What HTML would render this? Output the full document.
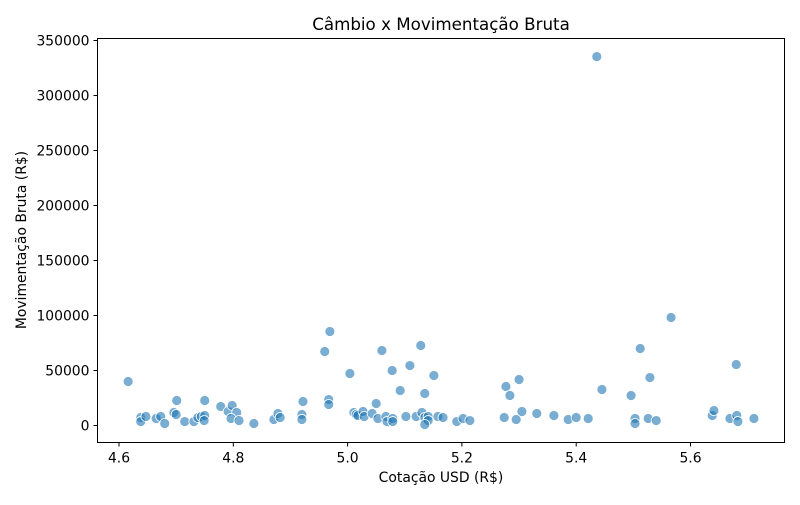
<!DOCTYPE html>
<html><head><meta charset="utf-8"><style>
body{margin:0;background:#fff;}
svg text{font-family:"DejaVu Sans","Liberation Sans",sans-serif;fill:#000;}
</style></head><body>
<svg id="chart" width="800" height="500" xmlns="http://www.w3.org/2000/svg">
<text x="441" y="30" font-size="16.7" text-anchor="middle">Câmbio x Movimentação Bruta</text>
<g id="marks"></g>
<g id="axes"></g>
<text x="441" y="482" font-size="13.9" text-anchor="middle">Cotação USD (R$)</text>
<text transform="translate(26,240) rotate(-90)" font-size="13.9" text-anchor="middle">Movimentação Bruta (R$)</text>
</svg>
<script>
const xVals=[4.616,4.638,4.638,4.647,4.665,4.673,4.680,4.696,4.700,4.701,4.715,4.731,4.738,4.744,4.750,4.749,4.750,4.778,4.791,4.798,4.806,4.796,4.810,4.836,4.871,4.878,4.882,4.922,4.920,4.920,4.967,4.967,5.004,4.969,4.960,5.060,5.128,5.078,5.109,5.151,5.092,5.135,5.050,5.011,5.015,5.018,5.027,5.029,5.043,5.053,5.067,5.069,5.079,5.079,5.102,5.120,5.130,5.135,5.141,5.141,5.135,5.158,5.167,5.191,5.202,5.214,5.277,5.284,5.300,5.274,5.295,5.305,5.331,5.566,5.512,5.529,5.680,5.445,5.496,5.361,5.386,5.400,5.421,5.503,5.503,5.526,5.540,5.638,5.641,5.669,5.681,5.683,5.711,5.436];
const yVals=[40000,7300,3600,8200,6400,8200,1800,11800,10000,22700,3600,3600,7300,8200,9100,4500,22700,17300,12700,18200,11800,6400,4500,1800,5500,10900,7300,21800,10000,5500,23600,19100,47300,85500,67300,68200,72700,50000,54500,45500,31800,29100,20000,11800,10000,9100,12700,8200,10900,6400,8200,3600,6400,3600,8200,8200,11800,7300,8200,4500,900,8200,7300,3600,6400,4500,35500,27300,41800,7300,5500,12700,10900,98200,70000,43600,55500,32700,27300,9100,5500,7300,6400,6400,1800,6400,4500,9100,13600,6400,9100,3600,6400,335400];
const xTicks=[4.6,4.8,5.0,5.2,5.4,5.6];
const xTickLabels=["4.6","4.8","5.0","5.2","5.4","5.6"];
const yTicks=[0,50000,100000,150000,200000,250000,300000,350000];
const yTickLabels=["0","50000","100000","150000","200000","250000","300000","350000"];
const L=97.5,R=784.5,T=38.5,B=442.5;
const xs=v=>119+(v-4.6)/0.2*114.3;
const ys=v=>425.5-v/50000*55;
const NS="http://www.w3.org/2000/svg";
const marks=document.getElementById('marks'),axes=document.getElementById('axes');
for(let i=0;i<xVals.length;i++){
  const c=document.createElementNS(NS,'circle');
  c.setAttribute('cx',xs(xVals[i]));c.setAttribute('cy',ys(yVals[i]));c.setAttribute('r',5);
  c.setAttribute('fill','#1f77b4');c.setAttribute('fill-opacity','0.6');
  c.setAttribute('stroke','#fff');c.setAttribute('stroke-width','0.8');
  
  
  marks.appendChild(c);
}
const frame=document.createElementNS(NS,'rect');
frame.setAttribute('x',L);frame.setAttribute('y',T);frame.setAttribute('width',R-L);frame.setAttribute('height',B-T);
frame.setAttribute('fill','none');frame.setAttribute('stroke','#000');frame.setAttribute('stroke-width','1');


axes.appendChild(frame);
xTicks.forEach((t,i)=>{
  const x=xs(t);
  const l=document.createElementNS(NS,'line');
  l.setAttribute('x1',x);l.setAttribute('x2',x);l.setAttribute('y1',B);l.setAttribute('y2',B+4);l.setAttribute('stroke','#000');
  
  
  axes.appendChild(l);
  const tx=document.createElementNS(NS,'text');
  tx.setAttribute('x',x);tx.setAttribute('y',B+20);tx.setAttribute('font-size','13.9');tx.setAttribute('text-anchor','middle');
  tx.textContent=xTickLabels[i];
  
  
  axes.appendChild(tx);
});
yTicks.forEach((t,i)=>{
  const y=ys(t);
  const l=document.createElementNS(NS,'line');
  l.setAttribute('x1',L-4);l.setAttribute('x2',L);l.setAttribute('y1',y);l.setAttribute('y2',y);l.setAttribute('stroke','#000');
  
  
  axes.appendChild(l);
  const tx=document.createElementNS(NS,'text');
  tx.setAttribute('x',L-8);tx.setAttribute('y',y+5);tx.setAttribute('font-size','13.9');tx.setAttribute('text-anchor','end');
  tx.textContent=yTickLabels[i];
  
  
  axes.appendChild(tx);
});
</script>
</body></html>
